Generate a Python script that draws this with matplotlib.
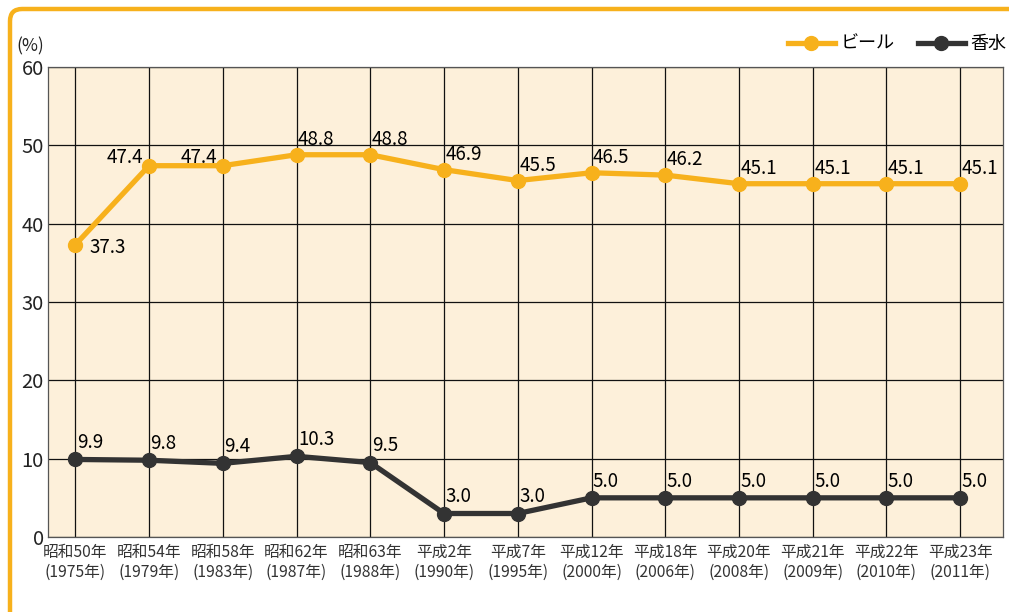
import matplotlib
matplotlib.use("Agg")
import matplotlib.pyplot as plt
from matplotlib.patches import FancyBboxPatch
from matplotlib.lines import Line2D

plt.rcParams['font.family'] = ['Noto Sans CJK JP', 'DejaVu Sans']

categories = ["昭和50年\n(1975年)", "昭和54年\n(1979年)", "昭和58年\n(1983年)", "昭和62年\n(1987年)",
              "昭和63年\n(1988年)", "平成2年\n(1990年)", "平成7年\n(1995年)", "平成12年\n(2000年)",
              "平成18年\n(2006年)", "平成20年\n(2008年)", "平成21年\n(2009年)", "平成22年\n(2010年)",
              "平成23年\n(2011年)"]
beer = [37.3, 47.4, 47.4, 48.8, 48.8, 46.9, 45.5, 46.5, 46.2, 45.1, 45.1, 45.1, 45.1]
perfume = [9.9, 9.8, 9.4, 10.3, 9.5, 3.0, 3.0, 5.0, 5.0, 5.0, 5.0, 5.0, 5.0]
series_names = ["ビール", "香水"]
yticks = [0, 10, 20, 30, 40, 50, 60]

ORANGE = "#F7B11C"
DARK = "#333333"

fig = plt.figure(figsize=(10.09, 6.12), dpi=100)
ax = fig.add_axes([48/1009, 1-537/612, (1003-48)/1009, (537-67)/612])
ax.set_facecolor("#FDF0DA")

x = list(range(len(categories)))
ax.plot(x, beer, color=ORANGE, lw=3.8, marker='o', ms=10, zorder=3, clip_on=False)
ax.plot(x, perfume, color=DARK, lw=3.8, marker='o', ms=10, zorder=3, clip_on=False)

ax.set_xlim(-0.37, 12.58)
ax.set_ylim(0, 60)
ax.set_yticks(yticks)
ax.set_xticks(x)
ax.set_xticklabels(categories, fontsize=11.3, color="#333333", linespacing=1.25)
ax.tick_params(axis='y', labelsize=14.5, length=0, pad=3, colors="#222222")
ax.tick_params(axis='x', length=0, pad=5)
ax.grid(True, color="#111111", lw=0.9)
ax.set_axisbelow(True)
for s in ax.spines.values():
    s.set_color("#555555")
    s.set_linewidth(0.9)

FS = 13.5
for i, v in enumerate(beer):
    if i == 0:
        ax.annotate(f"{v:.1f}", (i, v), xytext=(10, -2), textcoords='offset points',
                    ha='left', va='center', fontsize=FS)
    elif i in (1, 2):
        ax.annotate(f"{v:.1f}", (i, v), xytext=(-4, 6), textcoords='offset points',
                    ha='right', va='center', fontsize=FS)
    else:
        ax.annotate(f"{v:.1f}", (i, v), xytext=(1, 11), textcoords='offset points',
                    ha='left', va='center', fontsize=FS)
for i, v in enumerate(perfume):
    ax.annotate(f"{v:.1f}", (i, v), xytext=(1, 12), textcoords='offset points',
                ha='left', va='center', fontsize=FS)

fig.text(16/1009, 1-46/612, "(%)", fontsize=12.5, ha='left', va='center', color="#222222")

handles = [Line2D([0], [0], color=ORANGE, lw=3.8, marker='o', ms=10),
           Line2D([0], [0], color=DARK, lw=3.8, marker='o', ms=10)]
fig.legend(handles, series_names, loc='center right', bbox_to_anchor=(1006/1009, 1-44/612),
           ncol=2, frameon=False, fontsize=13, handlelength=2.6, columnspacing=1.3,
           handletextpad=0.3, borderaxespad=0, borderpad=0)

frame = FancyBboxPatch((10/1009, -0.2), 1.2, 1.2 - 9/612, boxstyle="round,pad=0,rounding_size=0.012",
                       transform=fig.transFigure, fill=False, edgecolor=ORANGE, lw=3.2,
                       mutation_aspect=1009/612)
fig.patches.append(frame)

fig.savefig("out.png", dpi=100)
